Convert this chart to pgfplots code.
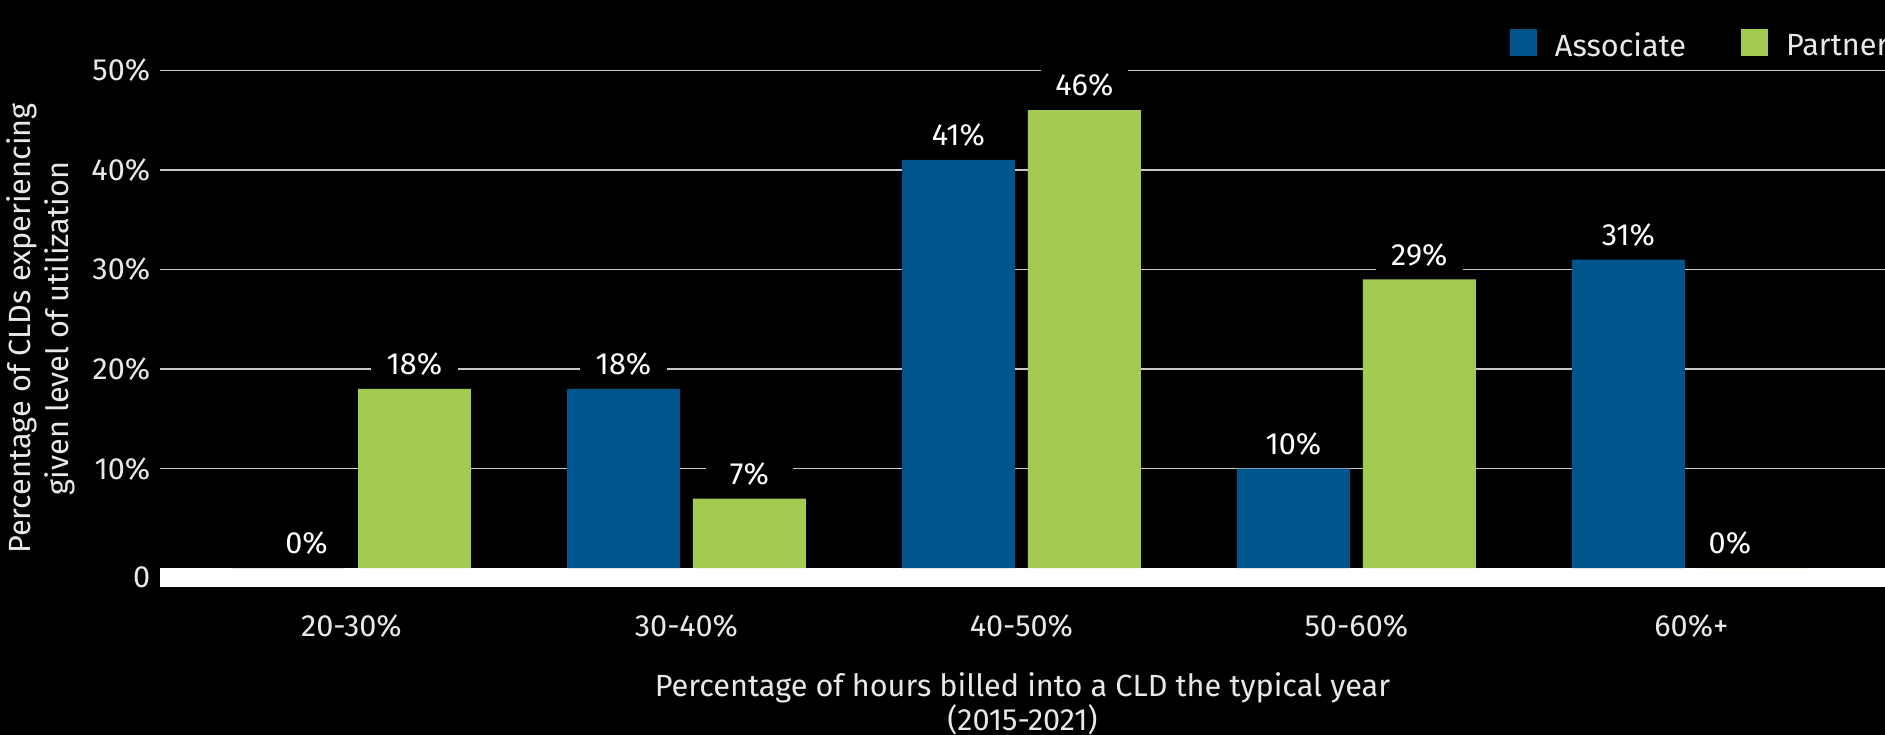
\documentclass[border=0pt]{standalone}
\usepackage{pgfplots}
\pgfplotsset{compat=1.18}
\usepackage{fontspec}
\setmainfont{Fira Sans}
\usetikzlibrary{backgrounds}
\definecolor{assoc}{RGB}{0,86,140}
\definecolor{partner}{RGB}{163,203,82}
\definecolor{gridc}{RGB}{200,200,200}
\definecolor{txt}{RGB}{232,232,232}
\begin{document}
\begin{tikzpicture}[font=\fontsize{9.2pt}{11pt}\selectfont]
\begin{axis}[
  scale only axis, width=517.5pt, height=154.9pt,
  xmin=-0.5716, xmax=4.578, ymin=-1.85, ymax=50,
  clip=false,
  axis line style={draw=none},
  tick style={draw=none},
  xtick={0,1,2,3,4},
  xticklabels={20-30\%,30-40\%,40-50\%,50-60\%,60\%+},
  ytick={-0.92,10,20,30,40,50},
  yticklabels={0,10\%,20\%,30\%,40\%,50\%},
  /pgf/number format/assume math mode=true,
  ymajorgrids,
  major grid style={draw=gridc, line width=0.45pt},
  xticklabel style={text=txt, anchor=base, yshift=-14.9pt},
  yticklabel style={text=txt, xshift=0.6pt},
  xlabel={Percentage of hours billed into a CLD the typical year\\(2015-2021)},
  xlabel style={at={(axis description cs:0.5,0)}, anchor=north, yshift=-25.6pt,
    inner sep=0pt, align=center, text=txt, font=\fontsize{9.2pt}{10.2pt}\selectfont},
  ylabel={Percentage of CLDs experiencing\\given level of utilization},
  ylabel style={at={(axis description cs:-0.0690,0.5)}, anchor=center,
    align=center, text=txt, font=\fontsize{9.2pt}{11.5pt}\selectfont},
  legend style={at={(axis description cs:0.7826,1)}, anchor=south west,
    yshift=2.6pt, draw=none, fill=none, inner sep=0pt, outer sep=0pt,
    text=txt, legend columns=-1,
    nodes={inner sep=0pt, outer sep=0pt},
    /tikz/every odd column/.append style={column sep=5.4pt},
    /tikz/every even column/.append style={column sep=16.5pt}},
  legend image code/.code={\fill[#1] (0pt,-2.7pt) rectangle (8.1pt,5.4pt);},
  nodes near coords={\pgfmathprintnumber{\pgfplotspointmeta}\%},
  visualization depends on={rawy \as \yval},
  every node near coord/.append style={fill=black, text=white, anchor=base,
    yshift=4.3pt, inner ysep=2pt, inner xsep=2pt, minimum width=26pt},
]
\fill[white] (axis cs:-0.5716,-1.85) rectangle (axis cs:4.578,0);
\addplot[ybar, bar width=0.337, bar shift=0pt, fill=assoc, draw=none,
  every node near coord/.append style={xshift={(\yval<0.5)*5.4pt}}]
  coordinates {(-0.188,0) (0.812,18) (1.812,41) (2.812,10) (3.812,31)};
\addlegendentry{Associate}
\addplot[ybar, bar width=0.337, bar shift=0pt, fill=partner, draw=none,
  every node near coord/.append style={xshift={(\yval<0.5)*(-7.35pt)}}]
  coordinates {(0.188,18) (1.188,7) (2.188,46) (3.188,29) (4.188,0)};
\addlegendentry{Partner}
\coordinate (SW) at (rel axis cs:0,0);
\coordinate (NE) at (rel axis cs:1,1);
\end{axis}
\pgfresetboundingbox
\path[use as bounding box] ([shift={(-48pt,-44.49pt)}]SW) rectangle ([shift={(0pt,21.09pt)}]NE);
\begin{scope}[on background layer]
\fill[black] ([shift={(-48pt,-44.49pt)}]SW) rectangle ([shift={(0pt,21.09pt)}]NE);
\end{scope}
\end{tikzpicture}
\end{document}
